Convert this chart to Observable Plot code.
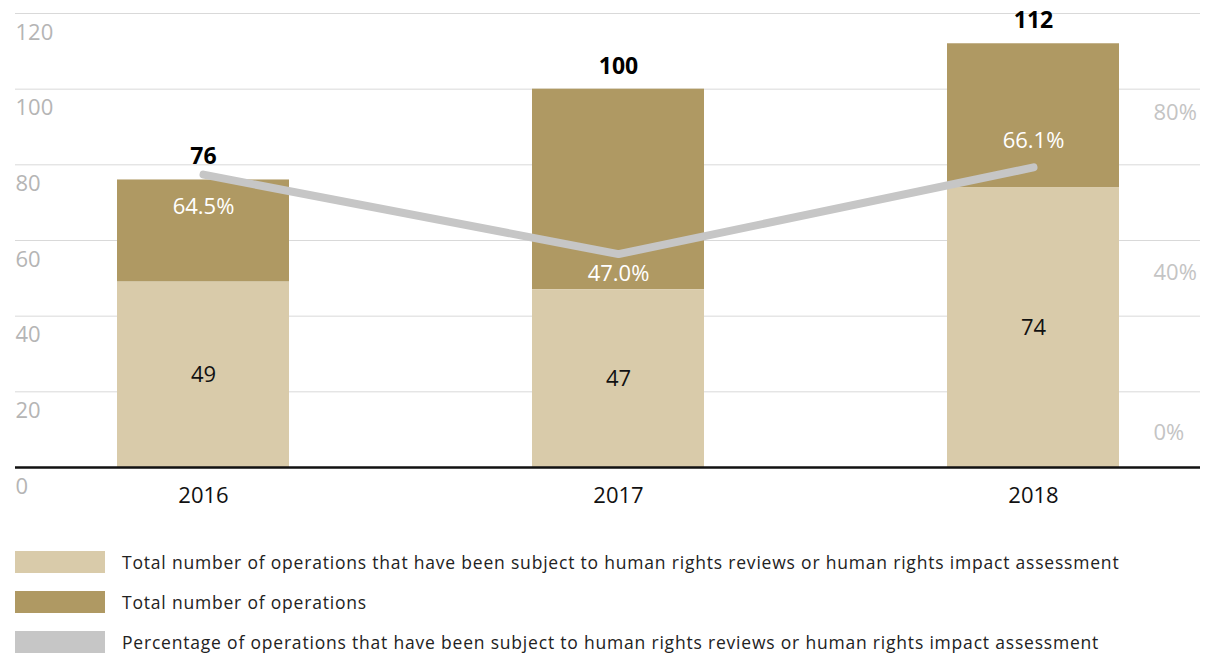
<!DOCTYPE html>
<html>
<head>
<meta charset="utf-8">
<script src="https://cdn.jsdelivr.net/npm/d3@7"></script>
<script src="https://cdn.jsdelivr.net/npm/@observablehq/plot@0.6"></script>
<style>
  html, body { margin: 0; padding: 0; background: #fff; }
  body { width: 1214px; height: 654px; overflow: hidden; font-family: "Open Sans", Lato, sans-serif; }
  #legend { padding-top: 22px; }
  .row { display: flex; align-items: center; height: 40px; }
  .sw { width: 90px; height: 22px; margin-left: 15px; margin-right: 17px; flex: none; }
  .lab { font-size: 17.5px; letter-spacing: 0.8px; color: #222; white-space: nowrap; }
</style>
</head>
<body>
<div id="chart"></div>
<div id="legend"></div>
<script>
const years = ["2016", "2017", "2018"];
const reviewed = [49, 47, 74];
const totals = [76, 100, 112];
const percents = [64.5, 47.0, 66.1];
const yTicks = [0, 20, 40, 60, 80, 100, 120];
const pctTicks = [0, 40, 80];
const seriesNames = [
  "Total number of operations that have been subject to human rights reviews or human rights impact assessment",
  "Total number of operations",
  "Percentage of operations that have been subject to human rights reviews or human rights impact assessment"
];
const colors = ["#d9cbaa", "#af9963", "#c6c6c6"];

const rows = years.map((y, i) => ({year: y, reviewed: reviewed[i], total: totals[i], pct: percents[i]}));
// percentage -> left-axis units (100% spans the full 0–120 axis)
const pctToY = p => p * 1.2;
// right axis labels sit on their own (approximate) percent scale
const pctAxisToY = p => 9 + 1.06 * p;

const font = "'Open Sans', Lato, sans-serif";

const chart = Plot.plot({
  width: 1214,
  height: 520,
  marginTop: 13,
  marginBottom: 53,
  marginLeft: 15,
  marginRight: 14,
  style: {fontFamily: font, background: "#fff"},
  x: {type: "band", domain: years, range: [-4.5, 1240.5], paddingInner: 0.585, paddingOuter: 0.2925, label: null},
  y: {domain: [0, 120], label: null, axis: null},
  marks: [
    Plot.ruleY(yTicks.filter(d => d > 0), {stroke: "#d9d9d9", strokeWidth: 1}),
    Plot.text(yTicks, {y: d => d, text: d => String(d), frameAnchor: "left", textAnchor: "start", dy: 19, fontSize: 22, fill: "#b5b5b5"}),
    Plot.text(pctTicks, {y: d => pctAxisToY(d), text: d => d + "%", frameAnchor: "right", textAnchor: "start", dx: -47, fontSize: 22, fill: "#c4c4c4"}),
    Plot.barY(rows, {x: "year", y1: "reviewed", y2: "total", fill: colors[1]}),
    Plot.barY(rows, {x: "year", y1: 0, y2: "reviewed", fill: colors[0]}),
    Plot.ruleY([0], {stroke: "#111", strokeWidth: 2.5}),
    Plot.line(rows, {x: "year", y: d => pctToY(d.pct), stroke: colors[2], strokeWidth: 8, strokeLinecap: "round", strokeLinejoin: "round"}),
    Plot.text(rows, {x: "year", y: d => d.reviewed / 2, text: d => String(d.reviewed), fontSize: 22, fill: "#111"}),
    Plot.text(rows, {x: "year", y: "total", text: d => String(d.total), dy: -23, fontSize: 23, fontWeight: "bold", fill: "#000"}),
    Plot.text(rows.filter(d => d.year === "2016"), {x: "year", y: d => pctToY(d.pct), text: d => d.pct.toFixed(1) + "%", dy: 32, fontSize: 22, fill: "#fff"}),
    Plot.text(rows.filter(d => d.year === "2017"), {x: "year", y: d => pctToY(d.pct), text: d => d.pct.toFixed(1) + "%", dy: 20, fontSize: 22, fill: "#fff"}),
    Plot.text(rows.filter(d => d.year === "2018"), {x: "year", y: d => pctToY(d.pct), text: d => d.pct.toFixed(1) + "%", dy: -26, fontSize: 22, fill: "#fff"}),
    Plot.axisX({tickSize: 0, tickPadding: 20, fontSize: 22, color: "#111", label: null})
  ]
});
document.getElementById("chart").appendChild(chart);

const legend = document.getElementById("legend");
seriesNames.forEach((name, i) => {
  const row = document.createElement("div");
  row.className = "row";
  row.innerHTML = `<div class="sw" style="background:${colors[i]}"></div><div class="lab">${name}</div>`;
  legend.appendChild(row);
});
</script>
</body>
</html>
